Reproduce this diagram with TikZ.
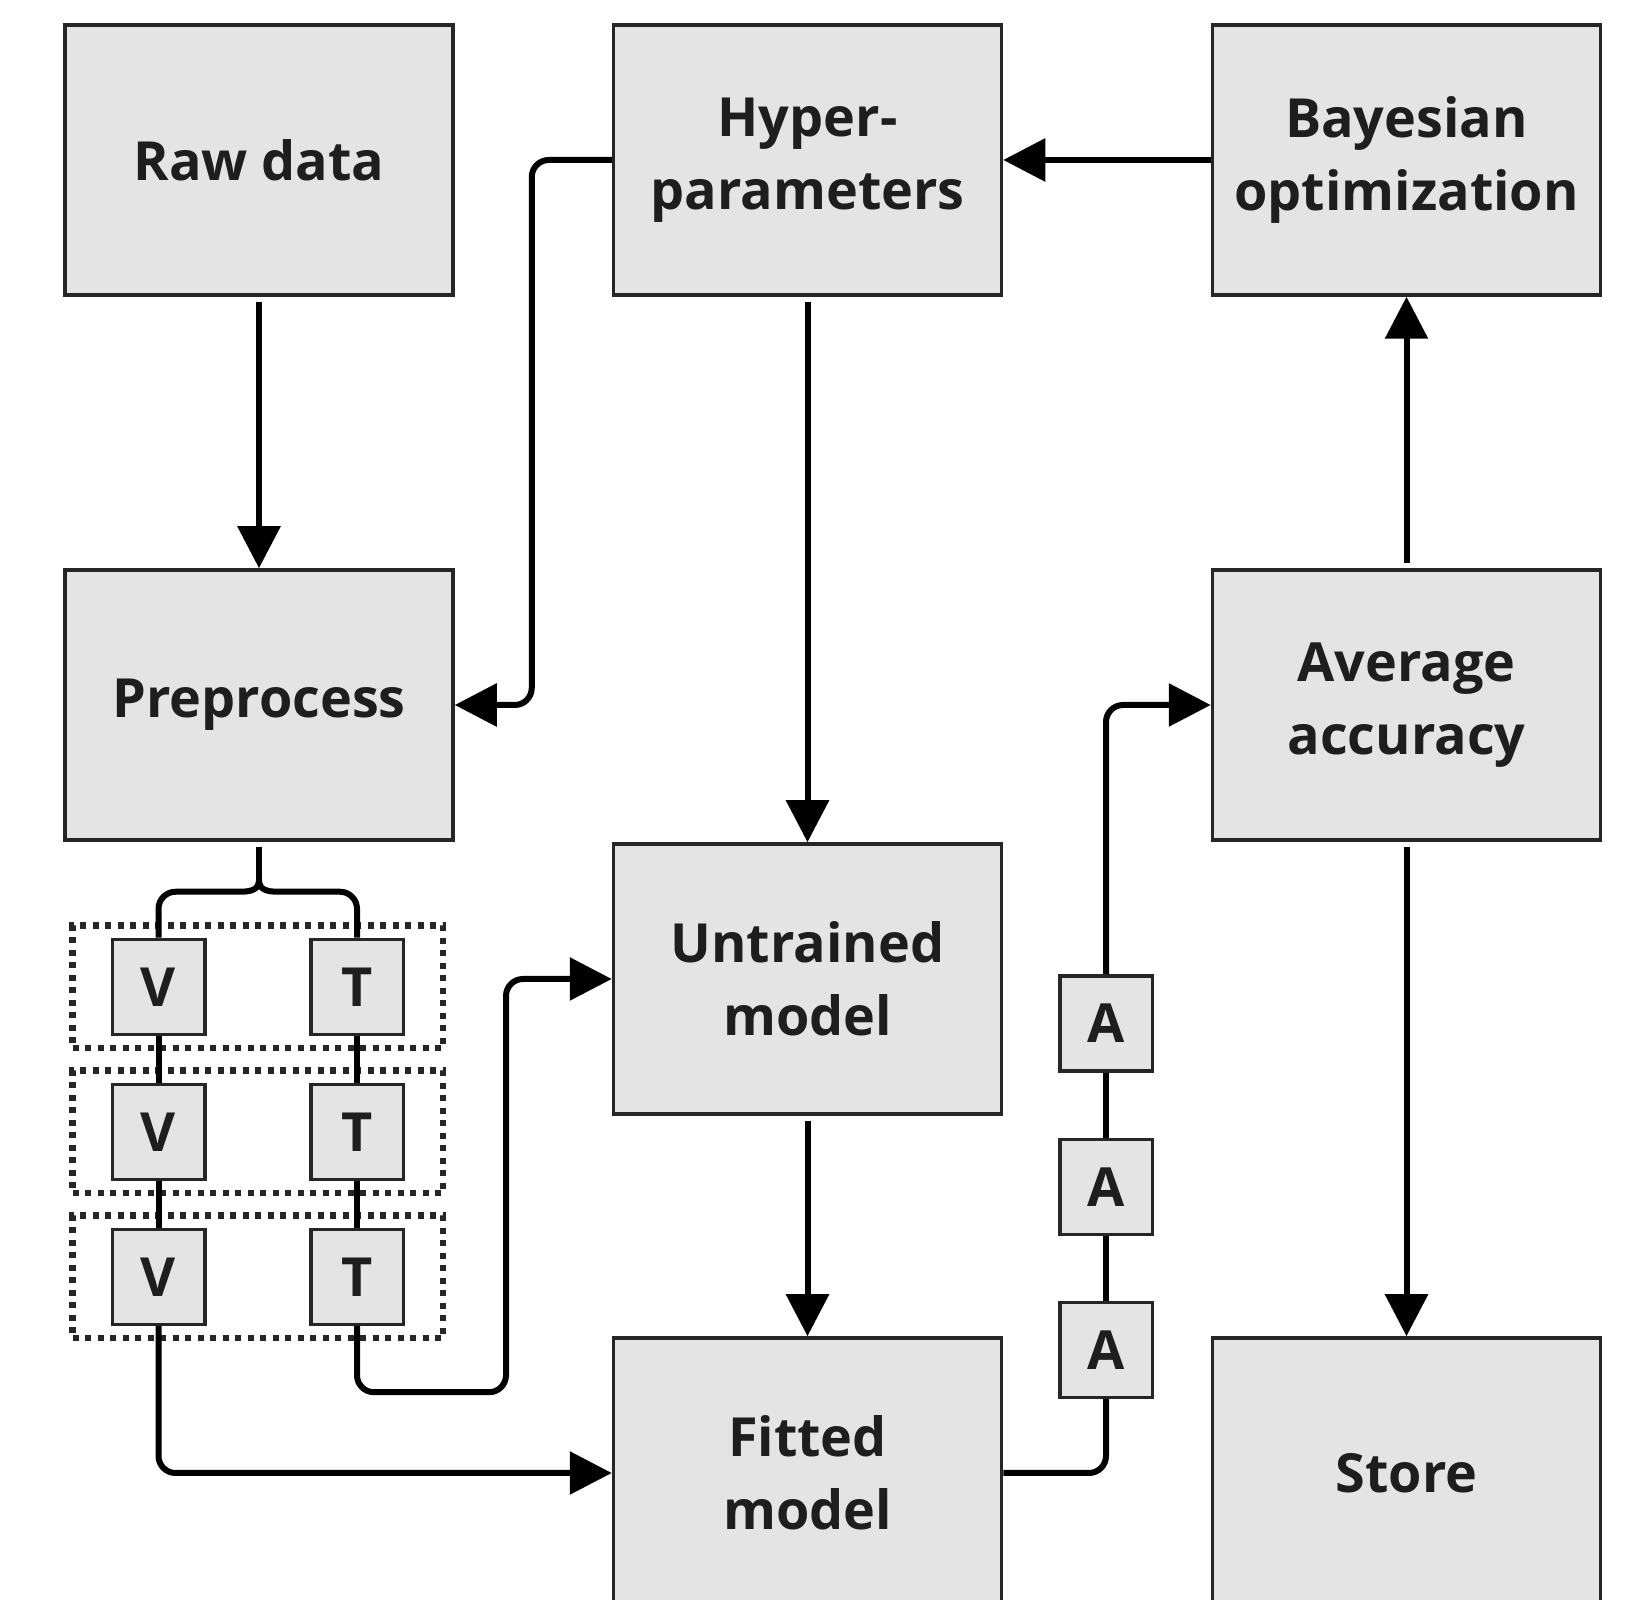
\documentclass[tikz,border=0pt]{standalone}
\usepackage{fontspec}
\setmainfont{Open Sans}
\usepackage{xcolor}
\usepackage{tikz}
\usetikzlibrary{positioning,calc,arrows.meta,fit}
\definecolor{boxbg}{HTML}{E4E4E4}
\definecolor{boxline}{HTML}{262626}
\definecolor{txt}{HTML}{1E1E1E}
\tikzset{
  box/.style={draw=boxline, line width=0.07cm, fill=boxbg, minimum width=7.76cm,
    minimum height=5.4cm, align=center, text=txt,
    font=\fontsize{30.7}{41.5}\selectfont\bfseries},
  tag/.style={box, minimum width=1.85cm, minimum height=1.9cm, inner sep=0pt},
  link/.style={line width=0.12cm, black},
  arr/.style={link, -{Triangle[length=0.84cm, width=0.84cm]}},
  group/.style={draw=boxline, line width=0.13cm, dash pattern=on 0.12cm off 0.13cm,
    inner xsep=0.76cm, inner ysep=0.24cm}
}

\begin{document}
\begin{tikzpicture}
  \clip (0,0) rectangle (32.72,32);

  % Main steps
  \node[box] (raw) at (5.18,28.8) {Raw data};
  \node[box] (hyper) at (16.15,28.8) {Hyper-\\parameters};
  \node[box] (bayes) at (28.13,28.8) {Bayesian\\optimization};
  \node[box] (prep) at (5.18,17.9) {Preprocess};
  \node[box] (avg) at (28.13,17.9) {Average\\accuracy};
  \node[box] (untrained) at (16.15,12.42) {Untrained\\model};
  % bottom row runs off the page
  \node[box] (fitted) at (16.15,2.54) {Fitted\\model};
  \node[box] (store) at (28.13,2.54) {Store};

  % Folds (validation / training)
  \foreach \i/\y in {1/12.26, 2/9.36, 3/6.46} {
    \node[tag] (v\i) at (3.17,\y) {V};
    \node[tag] (t\i) at (7.14,\y) {T};
    \node[group, fit=(v\i)(t\i)] (fold\i) {};
  }
  \foreach \i/\j in {1/2, 2/3} {
    \draw[link] (v\i) -- (v\j);
    \draw[link] (t\i) -- (t\j);
  }

  % Accuracy per fold
  \node[tag] (a1) at (22.12,11.53) {A};
  \node[tag] (a2) at (22.12,8.26) {A};
  \node[tag] (a3) at (22.12,5.0) {A};
  \draw[link] (a3) -- (a2);
  \draw[link] (a2) -- (a1);

  % Flow
  \draw[arr, shorten <=0.1cm] (raw) -- (prep);
  \draw[arr] (bayes) -- (hyper);
  \draw[arr, shorten <=0.1cm] (hyper) -- (untrained);
  \draw[arr, shorten <=0.1cm] (untrained) -- (fitted);
  \draw[arr, shorten <=0.1cm] (avg) -- (bayes);
  \draw[arr, shorten <=0.1cm] (avg) -- (store);
  \draw[arr, rounded corners=0.34cm] (hyper.west) -- ++(-1.6,0) |- (prep.east);

  % Split brace
  \coordinate (cusp) at ($(prep.south)+(0,-0.76)$);
  \coordinate (bl) at ($(cusp)+(-0.4,-0.24)$);
  \coordinate (br) at ($(cusp)+(0.4,-0.24)$);
  \draw[link, shorten <=0.1cm] (prep.south) -- (cusp);
  \draw[link] (cusp) .. controls +(0,-0.2) and +(0.25,0) .. (bl)
    [rounded corners=0.34cm] -| (v1.north);
  \draw[link] (cusp) .. controls +(0,-0.2) and +(-0.25,0) .. (br)
    [rounded corners=0.34cm] -| (t1.north);

  % Folds to models
  \draw[arr, rounded corners=0.34cm] (v3.south) |- (fitted.west);
  \draw[arr, rounded corners=0.34cm] (t3.south) |- ++(2.98,-1.32) |- (untrained.west);
  \draw[link, rounded corners=0.34cm] (fitted.east) -| (a3.south);
  \draw[arr, rounded corners=0.34cm] (a1.north) |- (avg.west);
\end{tikzpicture}
\end{document}
